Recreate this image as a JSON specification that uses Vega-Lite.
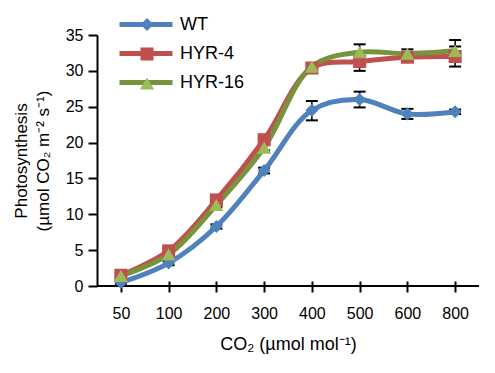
{
  "$schema": "https://vega.github.io/schema/vega-lite/v6.json",
  "width": 382,
  "height": 251,
  "autosize": {"type": "none"},
  "padding": {"left": 97, "top": 35, "right": 16, "bottom": 87},
  "background": "white",
  "config": {
    "view": {"stroke": null},
    "font": "Liberation Sans",
    "axis": {"labelColor": "black", "titleColor": "black", "titleFontWeight": "normal", "grid": false}
  },
  "data": {
    "values": [
      {"geno": "WT", "co2": "50", "val": 0.5, "lo": 0.3, "hi": 0.7},
      {"geno": "WT", "co2": "100", "val": 3.2, "lo": 2.9, "hi": 3.5},
      {"geno": "WT", "co2": "200", "val": 8.3, "lo": 8.0, "hi": 8.6},
      {"geno": "WT", "co2": "300", "val": 16.1, "lo": 15.7, "hi": 16.5},
      {"geno": "WT", "co2": "400", "val": 24.5, "lo": 23.1, "hi": 25.8},
      {"geno": "WT", "co2": "500", "val": 26.0, "lo": 24.9, "hi": 27.1},
      {"geno": "WT", "co2": "600", "val": 24.0, "lo": 23.3, "hi": 24.7},
      {"geno": "WT", "co2": "800", "val": 24.3, "lo": 24.0, "hi": 24.6},
      {"geno": "HYR-4", "co2": "50", "val": 1.5, "lo": 1.2, "hi": 1.8},
      {"geno": "HYR-4", "co2": "100", "val": 4.9, "lo": 4.6, "hi": 5.2},
      {"geno": "HYR-4", "co2": "200", "val": 12.0, "lo": 11.6, "hi": 12.4},
      {"geno": "HYR-4", "co2": "300", "val": 20.4, "lo": 20.0, "hi": 20.8},
      {"geno": "HYR-4", "co2": "400", "val": 30.4, "lo": 30.0, "hi": 30.8},
      {"geno": "HYR-4", "co2": "500", "val": 31.3, "lo": 30.0, "hi": 32.6},
      {"geno": "HYR-4", "co2": "600", "val": 31.9, "lo": 31.3, "hi": 32.5},
      {"geno": "HYR-4", "co2": "800", "val": 32.0, "lo": 30.6, "hi": 33.4},
      {"geno": "HYR-16", "co2": "50", "val": 1.4, "lo": 1.1, "hi": 1.7},
      {"geno": "HYR-16", "co2": "100", "val": 4.4, "lo": 4.1, "hi": 4.7},
      {"geno": "HYR-16", "co2": "200", "val": 11.3, "lo": 11.0, "hi": 11.6},
      {"geno": "HYR-16", "co2": "300", "val": 19.3, "lo": 18.9, "hi": 19.7},
      {"geno": "HYR-16", "co2": "400", "val": 30.6, "lo": 30.3, "hi": 30.9},
      {"geno": "HYR-16", "co2": "500", "val": 32.6, "lo": 31.5, "hi": 33.7},
      {"geno": "HYR-16", "co2": "600", "val": 32.4, "lo": 31.8, "hi": 33.0},
      {"geno": "HYR-16", "co2": "800", "val": 32.8, "lo": 31.3, "hi": 34.3}
    ]
  },
  "resolve": {"scale": {"fill": "independent"}, "legend": {"fill": "independent"}},
  "layer": [
    {
      "mark": {"type": "rule", "color": "black", "strokeWidth": 1.5},
      "encoding": {
        "x": {"field": "co2", "type": "ordinal", "sort": ["50", "100", "200", "300", "400", "500", "600", "800"], "scale": {"type": "point", "padding": 0.5},
          "axis": {"title": "CO₂ (µmol mol⁻¹)", "offset": -5, "domain": false, "tickSize": 11, "tickWidth": 2, "tickColor": "black", "labelFontSize": 16, "labelPadding": 13, "labelAngle": 0, "titleFontSize": 18, "titlePadding": 14}},
        "y": {"field": "lo", "type": "quantitative", "scale": {"domain": [0, 35], "nice": false},
          "axis": {"title": ["Photosynthesis", "(µmol CO₂ m⁻² s⁻¹)"], "values": [0, 5, 10, 15, 20, 25, 30, 35], "tickCount": 8, "labelOverlap": false, "domainWidth": 2, "domainColor": "black", "tickSize": 9, "tickWidth": 2, "tickColor": "black", "labelFontSize": 16, "labelPadding": 5, "titleFontSize": 17, "titleX": -76, "titleY": 125.5, "titleAngle": -90, "titleBaseline": "middle", "titleAlign": "center", "titleLineHeight": 22}},
        "y2": {"field": "hi"}
      }
    },
    {
      "data": {"values": [{}]},
      "mark": {"type": "rule", "color": "black", "strokeWidth": 2},
      "encoding": {"y": {"datum": 0, "type": "quantitative",
        "axis": {"title": ["Photosynthesis", "(µmol CO₂ m⁻² s⁻¹)"], "values": [0, 5, 10, 15, 20, 25, 30, 35], "tickCount": 8, "labelOverlap": false, "domainWidth": 2, "domainColor": "black", "tickSize": 9, "tickWidth": 2, "tickColor": "black", "labelFontSize": 16, "labelPadding": 5, "titleFontSize": 17, "titleX": -76, "titleY": 125.5, "titleAngle": -90, "titleBaseline": "middle", "titleAlign": "center", "titleLineHeight": 22}}}
    },
    {
      "mark": {"type": "tick", "color": "black", "orient": "horizontal", "size": 12, "thickness": 2, "opacity": 1},
      "encoding": {
        "x": {"field": "co2", "type": "ordinal", "sort": ["50", "100", "200", "300", "400", "500", "600", "800"]},
        "y": {"field": "lo", "type": "quantitative"}
      }
    },
    {
      "mark": {"type": "tick", "color": "black", "orient": "horizontal", "size": 12, "thickness": 2, "opacity": 1},
      "encoding": {
        "x": {"field": "co2", "type": "ordinal", "sort": ["50", "100", "200", "300", "400", "500", "600", "800"]},
        "y": {"field": "hi", "type": "quantitative"}
      }
    },
    {
      "mark": {"type": "line", "interpolate": "catmull-rom", "strokeWidth": 5, "strokeCap": "round"},
      "encoding": {
        "x": {"field": "co2", "type": "ordinal", "sort": ["50", "100", "200", "300", "400", "500", "600", "800"]},
        "y": {"field": "val", "type": "quantitative"},
        "stroke": {"field": "geno", "type": "nominal",
          "scale": {"domain": ["WT", "HYR-4", "HYR-16"], "range": ["#4f81bd", "#c0504d", "#77933c"]},
          "legend": {"orient": "none", "legendX": 40, "legendY": -19.5, "title": null, "symbolType": "M-5.3,0L5.3,0", "symbolSize": 100, "symbolStrokeWidth": 5, "labelFontSize": 18, "labelOffset": 25, "rowPadding": 9, "padding": 0, "labelColor": "black"}}
      }
    },
    {
      "transform": [{"filter": {"field": "geno", "equal": "WT"}}],
      "mark": {"type": "point", "shape": "diamond", "filled": true, "opacity": 1, "size": 170},
      "encoding": {
        "x": {"field": "co2", "type": "ordinal", "sort": ["50", "100", "200", "300", "400", "500", "600", "800"]},
        "y": {"field": "val", "type": "quantitative"},
        "fill": {"field": "geno", "type": "nominal", "scale": {"domain": ["WT"], "range": ["#4f81bd"]},
          "legend": {"orient": "none", "legendX": 41, "legendY": -19.5, "title": null, "symbolSize": 170, "symbolStrokeWidth": 0, "symbolOpacity": 1, "labelFontSize": 18, "labelExpr": "''", "padding": 0, "zindex": 1}}
      }
    },
    {
      "transform": [{"filter": {"field": "geno", "equal": "HYR-4"}}],
      "mark": {"type": "point", "shape": "square", "filled": true, "opacity": 1, "size": 170},
      "encoding": {
        "x": {"field": "co2", "type": "ordinal", "sort": ["50", "100", "200", "300", "400", "500", "600", "800"]},
        "y": {"field": "val", "type": "quantitative"},
        "fill": {"field": "geno", "type": "nominal", "scale": {"domain": ["HYR-4"], "range": ["#c0504d"]},
          "legend": {"orient": "none", "legendX": 41, "legendY": 10, "title": null, "symbolSize": 170, "symbolStrokeWidth": 0, "symbolOpacity": 1, "labelFontSize": 18, "labelExpr": "''", "padding": 0, "zindex": 1}}
      }
    },
    {
      "transform": [{"filter": {"field": "geno", "equal": "HYR-16"}}],
      "mark": {"type": "point", "shape": "triangle-up", "filled": true, "opacity": 1, "size": 200},
      "encoding": {
        "x": {"field": "co2", "type": "ordinal", "sort": ["50", "100", "200", "300", "400", "500", "600", "800"]},
        "y": {"field": "val", "type": "quantitative"},
        "fill": {"field": "geno", "type": "nominal", "scale": {"domain": ["HYR-16"], "range": ["#9bbb59"]},
          "legend": {"orient": "none", "legendX": 41, "legendY": 39.5, "title": null, "symbolSize": 200, "symbolStrokeWidth": 0, "symbolOpacity": 1, "labelFontSize": 18, "labelExpr": "''", "padding": 0, "zindex": 1}}
      }
    }
  ]
}
